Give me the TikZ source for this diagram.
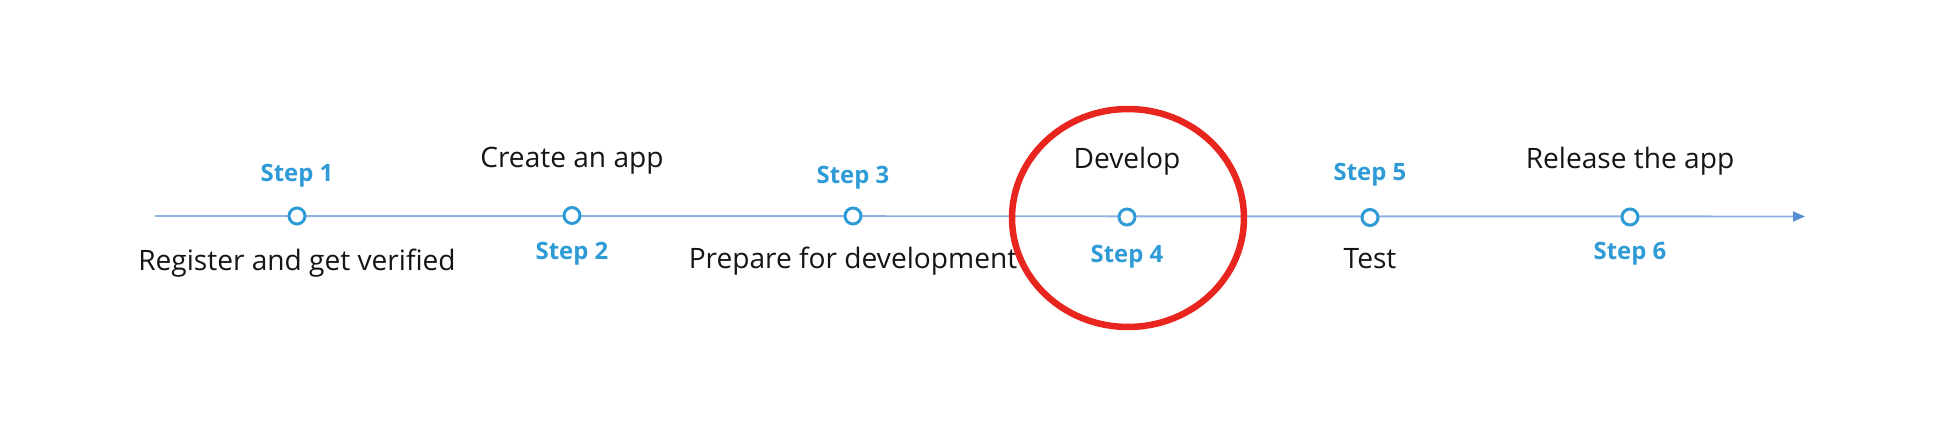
\documentclass[tikz,border=0pt]{standalone}
\usepackage{fontspec}
\setmainfont{Open Sans}
\usepackage{xcolor}
\usepackage{tikz}
\usetikzlibrary{arrows.meta,positioning}
\definecolor{stepblue}{HTML}{2F9BD6}
\definecolor{axisblue}{HTML}{8EB3E0}
\definecolor{tipblue}{HTML}{5A8ED2}
\definecolor{markred}{HTML}{E8261F}
\definecolor{textgray}{HTML}{151515}

\tikzset{
  marker/.style={circle, draw=stepblue, line width=1.7pt, fill=white, minimum size=0.32cm, inner sep=0pt},
  steplbl/.style={anchor=base, text=stepblue, font=\fontsize{13.6}{15}\selectfont\bfseries},
  desclbl/.style={anchor=base, text=textgray, font=\fontsize{16}{18}\selectfont},
  axis/.style={draw=axisblue, line width=1.1pt, -{Triangle[length=0.24cm, width=0.2cm, color=tipblue]}},
  highlight/.style={draw=markred, line width=3.7pt}
}

\begin{document}
\begin{tikzpicture}[x=0.02cm, y=-0.02cm]
      \useasboundingbox (0,0) rectangle (1952,438);

      % Timeline axis
      \coordinate (start) at (155,216);
      \coordinate (end) at (1805,216.5);
      \draw[axis] (start) -- (end);

      % Step markers
      \node[marker] (s1) at (297,216) {};
      \node[marker] (s2) at (572,215.5) {};
      \node[marker] (s3) at (853,216) {};
      \node[marker] (s4) at (1127,217) {};
      \node[marker] (s5) at (1370,217.5) {};
      \node[marker] (s6) at (1630,217) {};

      % Labels above the axis
      \node[steplbl] (l1) at ([yshift=0.7cm]s1) {Step 1};
      \node[desclbl] (d2) at ([yshift=0.96cm]s2) {Create an app};
      \node[steplbl] (l3) at ([yshift=0.66cm]s3) {Step 3};
      \node[desclbl] (d4) at ([yshift=0.98cm]s4) {Develop};
      \node[steplbl] (l5) at ([yshift=0.75cm]s5) {Step 5};
      \node[desclbl] (d6) at ([yshift=0.98cm]s6) {Release the app};

      % Labels below the axis
      \node[desclbl] (d1) at ([yshift=-1.1cm]s1) {Register and get verified};
      \node[steplbl] (l2) at ([yshift=-0.89cm]s2) {Step 2};
      \node[desclbl] (d3) at ([yshift=-1.06cm]s3) {Prepare for development};
      \node[steplbl] (l4) at ([yshift=-0.92cm]s4) {Step 4};
      \node[desclbl] (d5) at ([yshift=-1.03cm]s5) {Test};
      \node[steplbl] (l6) at ([yshift=-0.86cm]s6) {Step 6};

      % Highlight round step 4
      \draw[highlight] ([xshift=0.02cm, yshift=-0.02cm]s4.center) ellipse [x radius=2.32cm, y radius=2.18cm];
\end{tikzpicture}
\end{document}
